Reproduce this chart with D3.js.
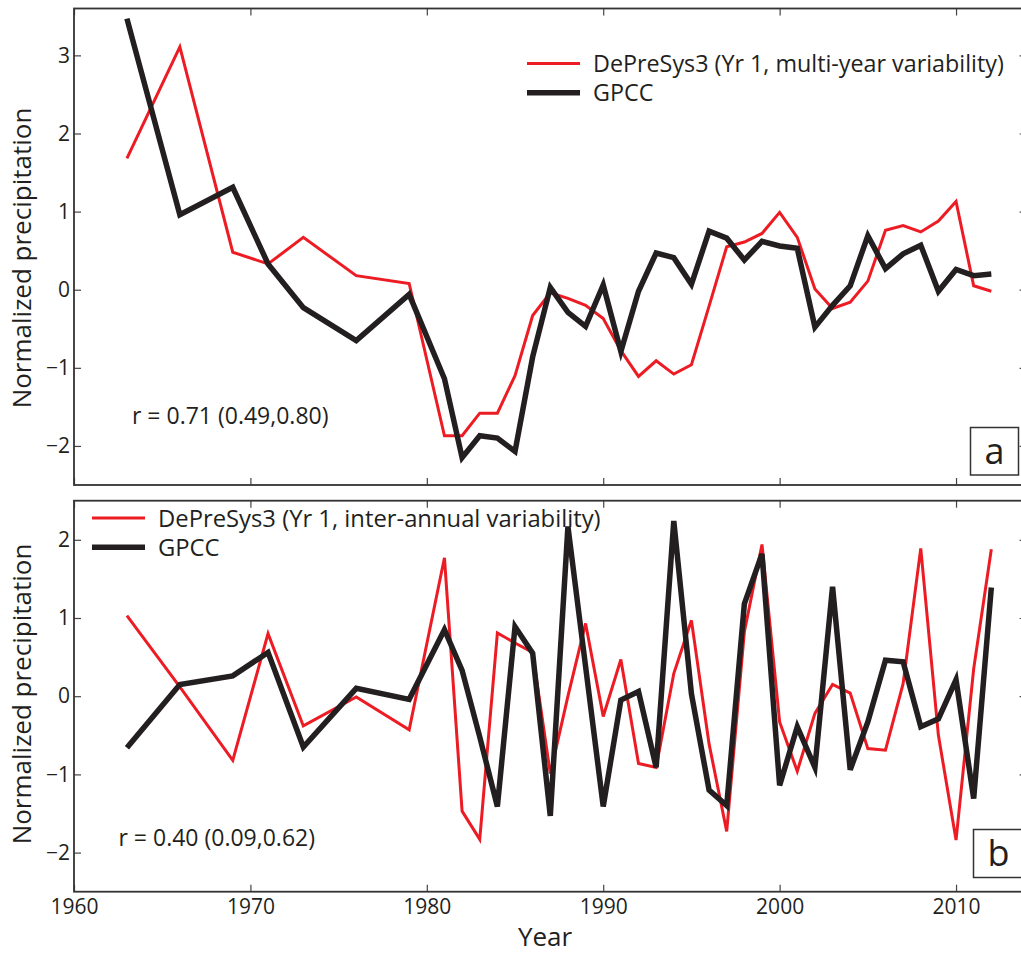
<!DOCTYPE html>
<html>
<head>
<meta charset="utf-8">
<script src="https://cdn.jsdelivr.net/npm/d3@7"></script>
<style>
  html, body { margin: 0; padding: 0; background: #fff; }
  svg { display: block; font-family: "Open Sans", sans-serif; }
</style>
</head>
<body>
<svg id="chart" width="1021" height="954"></svg>
<script>
// years shared by every series
const years = [1963, 1966, 1969, 1971, 1973, 1976, 1979,
  1981, 1982, 1983, 1984, 1985, 1986, 1987, 1988, 1989, 1990,
  1991, 1992, 1993, 1994, 1995, 1996, 1997, 1998, 1999, 2000,
  2001, 2002, 2003, 2004, 2005, 2006, 2007, 2008, 2009, 2010,
  2011, 2012];

// panel a: multi-year variability
const modelMulti = [1.68, 3.11, 0.48, 0.33, 0.67, 0.18, 0.08,
  -1.87, -1.87, -1.58, -1.58, -1.10, -0.33, -0.04, -0.11, -0.20, -0.37,
  -0.78, -1.11, -0.91, -1.08, -0.96, -0.21, 0.55, 0.61, 0.72, 0.99,
  0.67, 0.01, -0.24, -0.16, 0.11, 0.76, 0.82, 0.74, 0.88, 1.13,
  0.05, -0.02];
const gpccMulti = [3.47, 0.96, 1.31, 0.33, -0.23, -0.65, -0.06,
  -1.14, -2.15, -1.87, -1.90, -2.07, -0.86, 0.03, -0.29, -0.47, 0.06,
  -0.79, -0.02, 0.47, 0.41, 0.07, 0.75, 0.66, 0.38, 0.62, 0.56,
  0.53, -0.48, -0.20, 0.05, 0.69, 0.27, 0.46, 0.57, -0.02, 0.26,
  0.18, 0.20];

// panel b: inter-annual variability
const modelInter = [1.03, 0.12, -0.82, 0.80, -0.38, -0.01, -0.43,
  1.77, -1.47, -1.83, 0.81, 0.68, 0.56, -0.99, 0.00, 0.93, -0.26,
  0.47, -0.86, -0.91, 0.29, 0.97, -0.61, -1.73, 0.82, 1.94, -0.33,
  -0.96, -0.22, 0.15, 0.04, -0.67, -0.69, 0.16, 1.89, -0.50, -1.84,
  0.35, 1.88];
const gpccInter = [-0.66, 0.15, 0.26, 0.56, -0.65, 0.10, -0.04,
  0.85, 0.33, -0.52, -1.41, 0.89, 0.55, -1.53, 2.17, 0.38, -1.41,
  -0.05, 0.06, -0.91, 2.24, 0.03, -1.20, -1.40, 1.18, 1.82, -1.14,
  -0.39, -0.91, 1.40, -0.94, -0.33, 0.46, 0.44, -0.39, -0.29, 0.21,
  -1.31, 1.39];

const xTicks = [1960, 1970, 1980, 1990, 2000, 2010];
const yTicksA = [-2, -1, 0, 1, 2, 3];
const yTicksB = [-2, -1, 0, 1, 2];
const legendA = ["DePreSys3 (Yr 1, multi-year variability)", "GPCC"];
const legendB = ["DePreSys3 (Yr 1, inter-annual variability)", "GPCC"];
const corrA = "r = 0.71 (0.49,0.80)";
const corrB = "r = 0.40 (0.09,0.62)";

const RED = "#ed1c24", BLACK = "#231f20", INK = "#231f20";

const svg = d3.select("#chart");
const left = 74, right = 1026.6;
const x = d3.scaleLinear().domain([1960, 2014]).range([left, right]);

const panels = [
  { model: modelMulti, gpcc: gpccMulti, ticks: yTicksA, domain: [-2.5, 3.6],
    top: 8.5, bottom: 485, legend: legendA, corr: corrA, tag: "a", xLabels: false,
    legX: 527, legY: 63.5, legFont: 23.3, corrX: 132, corrY: 424,
    tagBox: [970.5, 427.5, 48, 47.5], labelY: 258 },
  { model: modelInter, gpcc: gpccInter, ticks: yTicksB, domain: [-2.5, 2.5],
    top: 500.7, bottom: 891.7, legend: legendB, corr: corrB, tag: "b", xLabels: true,
    legX: 92, legY: 518, legFont: 23.8, corrX: 118.5, corrY: 846,
    tagBox: [973.5, 829.5, 50, 48], labelY: 694 }
];

panels.forEach(p => {
  const y = d3.scaleLinear().domain(p.domain).range([p.bottom, p.top]);
  const g = svg.append("g");

  // series
  const line = d3.line().x((d, i) => x(years[i])).y(d => y(d));
  g.append("path").datum(p.model)
    .attr("fill", "none").attr("stroke", RED).attr("stroke-width", 3)
    .attr("stroke-linejoin", "miter").attr("d", line);
  g.append("path").datum(p.gpcc)
    .attr("fill", "none").attr("stroke", BLACK).attr("stroke-width", 5.5)
    .attr("stroke-linejoin", "miter").attr("d", line);

  // axes (ticks pointing inward, matlab style)
  const styleAxis = sel => {
    sel.select(".domain").remove();
    sel.selectAll(".tick line").attr("stroke", "#444").attr("stroke-width", 1.2);
    sel.selectAll(".tick text").attr("fill", INK).style("font-size", "21px")
      .style("font-family", "'Open Sans', sans-serif");
  };
  g.append("g").attr("transform", `translate(0,${p.bottom})`)
    .call(d3.axisBottom(x).tickValues(xTicks).tickSize(-7).tickPadding(7)
      .tickFormat(p.xLabels ? d3.format("d") : ""))
    .call(styleAxis);
  g.append("g").attr("transform", `translate(0,${p.top})`)
    .call(d3.axisTop(x).tickValues(xTicks).tickSize(-7).tickFormat(""))
    .call(styleAxis);
  g.append("g").attr("transform", `translate(${left},0)`)
    .call(d3.axisLeft(y).tickValues(p.ticks).tickSize(-7).tickPadding(4).tickFormat(d3.format("d")))
    .call(styleAxis);
  g.append("g").attr("transform", `translate(${right},0)`)
    .call(d3.axisRight(y).tickValues(p.ticks).tickSize(-7).tickFormat(""))
    .call(styleAxis);

  g.append("rect")
    .attr("x", left).attr("y", p.top)
    .attr("width", right - left).attr("height", p.bottom - p.top)
    .attr("fill", "none").attr("stroke", "#333").attr("stroke-width", 1.8);

  // legend
  const leg = g.append("g").attr("transform", `translate(${p.legX},${p.legY})`);
  [[RED, 3], [BLACK, 5.5]].forEach(([c, w], i) => {
    leg.append("line").attr("x1", 0).attr("x2", 53)
      .attr("y1", i * 29.2).attr("y2", i * 29.2)
      .attr("stroke", c).attr("stroke-width", w);
    leg.append("text").attr("x", 66).attr("y", i * 29.2).attr("dy", "0.36em")
      .attr("fill", INK).style("font-size", p.legFont + "px").text(p.legend[i]);
  });

  // correlation annotation
  g.append("text").attr("x", p.corrX).attr("y", p.corrY)
    .attr("fill", INK).style("font-size", "23px").text(p.corr);

  // panel tag
  const [bx, by, bw, bh] = p.tagBox;
  g.append("rect").attr("x", bx).attr("y", by).attr("width", bw).attr("height", bh)
    .attr("fill", "#fff").attr("stroke", "#333").attr("stroke-width", 1.5);
  g.append("text").attr("x", bx + bw / 2).attr("y", by + bh / 2).attr("dy", "0.35em")
    .attr("text-anchor", "middle").attr("fill", INK).style("font-size", "36px").text(p.tag);

  // y label
  svg.append("text")
    .attr("transform", `translate(22,${p.labelY}) rotate(-90)`)
    .attr("text-anchor", "middle").attr("dy", "0.35em")
    .attr("fill", INK).style("font-size", "26px").text("Normalized precipitation");
});

svg.append("text").attr("x", 545).attr("y", 946)
  .attr("text-anchor", "middle").attr("fill", INK).style("font-size", "26px").text("Year");
</script>
</body>
</html>
